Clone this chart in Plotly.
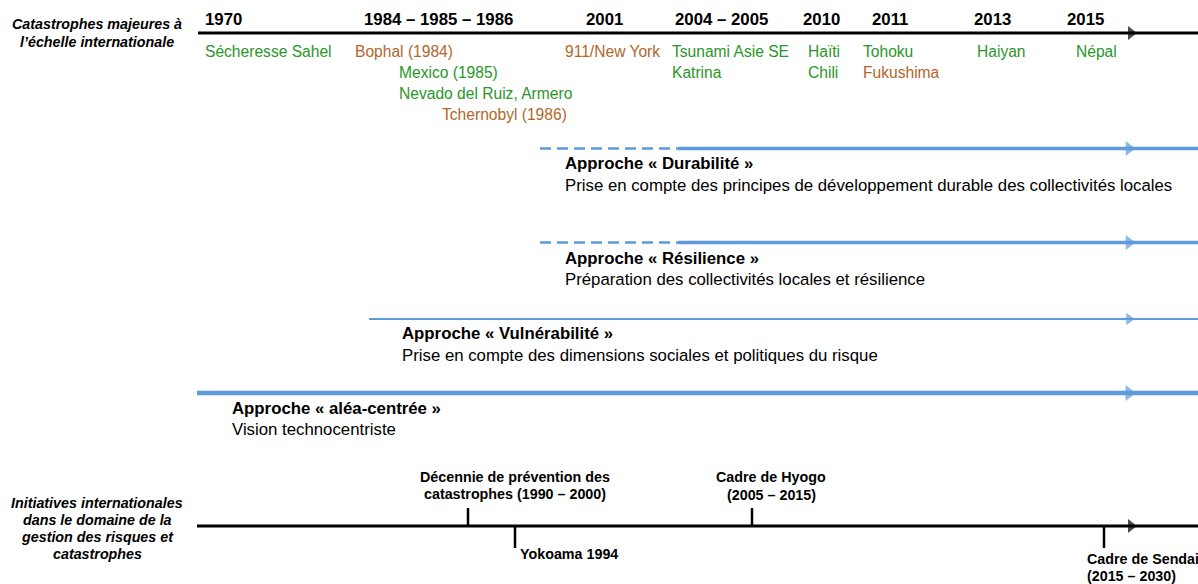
import plotly.graph_objects as go

# ---------------- data ----------------
titre_haut = ["Catastrophes majeures à", "l’échelle internationale"]
titre_bas = ["Initiatives internationales", "dans le domaine de la",
             "gestion des risques et", "catastrophes"]

annees = ["1970", "1984 – 1985 – 1986", "2001", "2004 – 2005",
          "2010", "2011", "2013", "2015"]

evenements = ["Sécheresse Sahel", "Bophal (1984)", "Mexico (1985)",
              "Nevado del Ruiz, Armero", "Tchernobyl (1986)", "911/New York",
              "Tsunami Asie SE", "Katrina", "Haïti", "Chili", "Tohoku",
              "Fukushima", "Haiyan", "Népal"]
evenement_type = ["nat", "tech", "nat", "nat", "tech", "tech", "nat", "nat",
                  "nat", "nat", "nat", "tech", "nat", "nat"]

approches = ["Approche « Durabilité »", "Approche « Résilience »",
             "Approche « Vulnérabilité »", "Approche « aléa-centrée »"]
approche_desc = ["Prise en compte des principes de développement durable des collectivités locales",
                 "Préparation des collectivités locales et résilience",
                 "Prise en compte des dimensions sociales et politiques du risque",
                 "Vision technocentriste"]

initiatives = [["Décennie de prévention des", "catastrophes (1990 – 2000)"],
               ["Yokoama 1994"],
               ["Cadre de Hyogo", "(2005 – 2015)"],
               ["Cadre de Sendai", "(2015 – 2030)"]]

# ---------------- layout (pixel positions) ----------------
W, H = 1198, 584
FONT = "Liberation Sans, Arial, sans-serif"
BLUE = "#5E9BDC"
GREEN = "#2A962A"
BROWN = "#B3662B"
couleurs = {"nat": GREEN, "tech": BROWN}

annee_x = [205, 364, 586, 675, 803, 872, 974, 1067]
annee_y = 19
evt_pos = [(205, 51), (355, 51), (399, 72), (399, 93), (442, 114), (565, 51),
           (672, 51), (672, 72), (808, 51), (808, 72), (863, 51), (863, 72),
           (977, 51), (1076, 51)]

# approach lines: (dash_start, solid_start, y, width, title_x, title_y, desc_y, arrow_size)
appr_geo = [(540, 678, 148.5, 3.5, 565, 163, 185, 13),
            (540, 678, 242.5, 3.5, 565, 258, 279, 13),
            (None, 369, 319, 2.2, 402, 333, 355, 11),
            (None, 197, 393, 4.5, 232, 408, 429, 14)]

# initiatives: tick x, tick direction, label anchor, label x, label y list
init_geo = [(468, -1, "center", 515, [477, 494]),
            (515, 1, "left", 520, [554]),
            (752, -1, "center", 771, [477, 495]),
            (1104, 1, "left", 1087, [559, 576])]

fig = go.Figure()
shapes = []
ann = []

def text(x, y, s, size, color="black", bold=False, italic=False, anchor="left"):
    if bold:
        s = "<b>" + s + "</b>"
    if italic:
        s = "<i>" + s + "</i>"
    if anchor == "left":
        x -= 2  # compensate annotation box padding
    ann.append(dict(x=x, y=y, text=s, showarrow=False, xanchor=anchor,
                    yanchor="middle", xref="x", yref="y",
                    font=dict(family=FONT, size=size, color=color)))

# left titles
for i, t in enumerate(titre_haut):
    text(97, 24 + 18 * i, t, 14.3, bold=True, italic=True, anchor="center")
for i, t in enumerate(titre_bas):
    text(97, 503 + 17 * i, t, 14.3, bold=True, italic=True, anchor="center")

# top timeline
shapes.append(dict(type="line", x0=198, x1=W, y0=33, y1=33,
                   line=dict(color="black", width=3)))
arrow_x, arrow_y, arrow_c, arrow_s = [1131], [33], ["black"], [12]
for a, x in zip(annees, annee_x):
    text(x, annee_y, a, 16.8, bold=True)
for e, t, (x, y) in zip(evenements, evenement_type, evt_pos):
    text(x, y, e, 15.6, color=couleurs[t])

# approaches
for name, desc, (xd, xs, y, w, tx, ty, dy, asz) in zip(approches, approche_desc, appr_geo):
    if xd is not None:
        shapes.append(dict(type="line", x0=xd, x1=xs, y0=y, y1=y,
                           line=dict(color=BLUE, width=2.5, dash="11px,6px")))
    shapes.append(dict(type="line", x0=xs, x1=W, y0=y, y1=y,
                       line=dict(color=BLUE, width=w)))
    arrow_x.append(1129); arrow_y.append(y); arrow_c.append(BLUE); arrow_s.append(asz)
    text(tx, ty, name, 16.8, bold=True)
    text(tx, dy, desc, 16.8)

# bottom timeline
shapes.append(dict(type="line", x0=197, x1=W, y0=526, y1=526,
                   line=dict(color="black", width=3)))
arrow_x.append(1131); arrow_y.append(526); arrow_c.append("black"); arrow_s.append(12)
for lab, (tx, d, anc, lx, lys) in zip(initiatives, init_geo):
    y1 = 526 + 22 * d if d > 0 else 526 - 18
    shapes.append(dict(type="line", x0=tx, x1=tx, y0=526, y1=y1,
                       line=dict(color="black", width=2.5)))
    for s, ly in zip(lab, lys):
        text(lx, ly, s, 14.3, bold=True, anchor=anc)

fig.add_trace(go.Scatter(x=arrow_x, y=arrow_y, mode="markers", hoverinfo="skip",
                         marker=dict(symbol="triangle-right", size=arrow_s,
                                     color=arrow_c, line=dict(width=0))))

fig.update_layout(width=W, height=H, margin=dict(l=0, r=0, t=0, b=0),
                  paper_bgcolor="white", plot_bgcolor="white", showlegend=False,
                  shapes=shapes, annotations=ann,
                  xaxis=dict(range=[0, W], visible=False, fixedrange=True),
                  yaxis=dict(range=[H, 0], visible=False, fixedrange=True))
fig.write_html("out.html", config={"displayModeBar": False})

# remove default page margins so the figure fills the window exactly
with open("out.html", encoding="utf-8") as f:
    html = f.read()
html = html.replace("<head>", "<head><style>html,body{margin:0;padding:0;overflow:hidden}</style>", 1)
with open("out.html", "w", encoding="utf-8") as f:
    f.write(html)
